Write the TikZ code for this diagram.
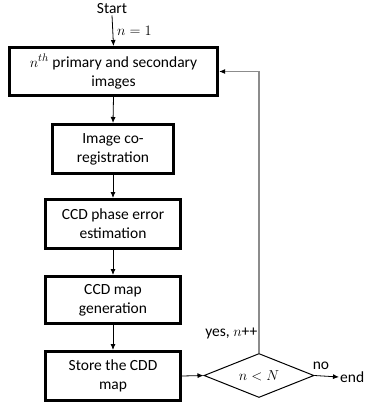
\documentclass[tikz,border=0pt]{standalone}
\usepackage{fontspec}
\setmainfont{Carlito}
\usetikzlibrary{arrows.meta,shapes.geometric}
\tikzset{
  stepbox/.style={draw=black, line width=3pt, align=center, inner sep=0pt,
    font=\fontsize{15.5}{19}\selectfont},
  lbl/.style={font=\fontsize{15.5}{19}\selectfont, inner sep=1pt},
  flow/.style={draw=black, line width=0.8pt, -{Latex[length=6pt,width=5pt]}},
  loop/.style={draw=black!45, line width=1.4pt, -{Latex[length=6pt,width=5pt,color=black]}},
  decision/.style={draw=black, line width=1pt, diamond, aspect=2.5, inner sep=0pt,
    minimum width=110pt, minimum height=44pt, font=\fontsize{14}{17}\selectfont}
}
\begin{document}
\begin{tikzpicture}[x=1pt,y=-1pt]
  \useasboundingbox (0,0) rectangle (365,408);

  % entry
  \node[lbl] (start) at (112,9) {Start};

  % processing chain
  \node[stepbox, minimum width=208pt, minimum height=48pt] (b1) at (113.5,71.5)
    {$n^{th}$ primary and secondary\\images};
  \node[stepbox, minimum width=121pt, minimum height=49pt] (b2) at (113,149)
    {Image co-\\registration};
  \node[stepbox, minimum width=135pt, minimum height=49pt] (b3) at (113,224)
    {CCD phase error\\estimation};
  \node[stepbox, minimum width=135pt, minimum height=47pt] (b4) at (113,300)
    {CCD map\\generation};
  \node[stepbox, minimum width=135pt, minimum height=49pt] (b5) at (113,376)
    {Store the CDD\\map};

  % loop test
  \node[decision] (d) at (259,375.5) {$n<N$};
  \node[lbl, anchor=west] (fin) at (339,377) {end};

  \coordinate (corner) at (d.north |- b1.east);

  \draw[flow] (start.south) -- node[lbl, right, xshift=3pt] {$n=1$} (b1.north);
  \draw[flow] (b1.south) -- (b2.north);
  \draw[flow] (b2.south) -- (b3.north);
  \draw[flow] (b3.south) -- (b4.north);
  \draw[flow] (b4.south) -- (b5.north);
  \draw[flow] (b5.east) -- (d.west);
  \draw[flow] (d.east) -- (fin.west);
  \node[lbl] (no) at (321,366) {no};
  \draw[loop] (d.north) -- node[lbl, pos=0.07, left, text=black] {yes, $n$++} (corner) -- (b1.east);
\end{tikzpicture}
\end{document}
